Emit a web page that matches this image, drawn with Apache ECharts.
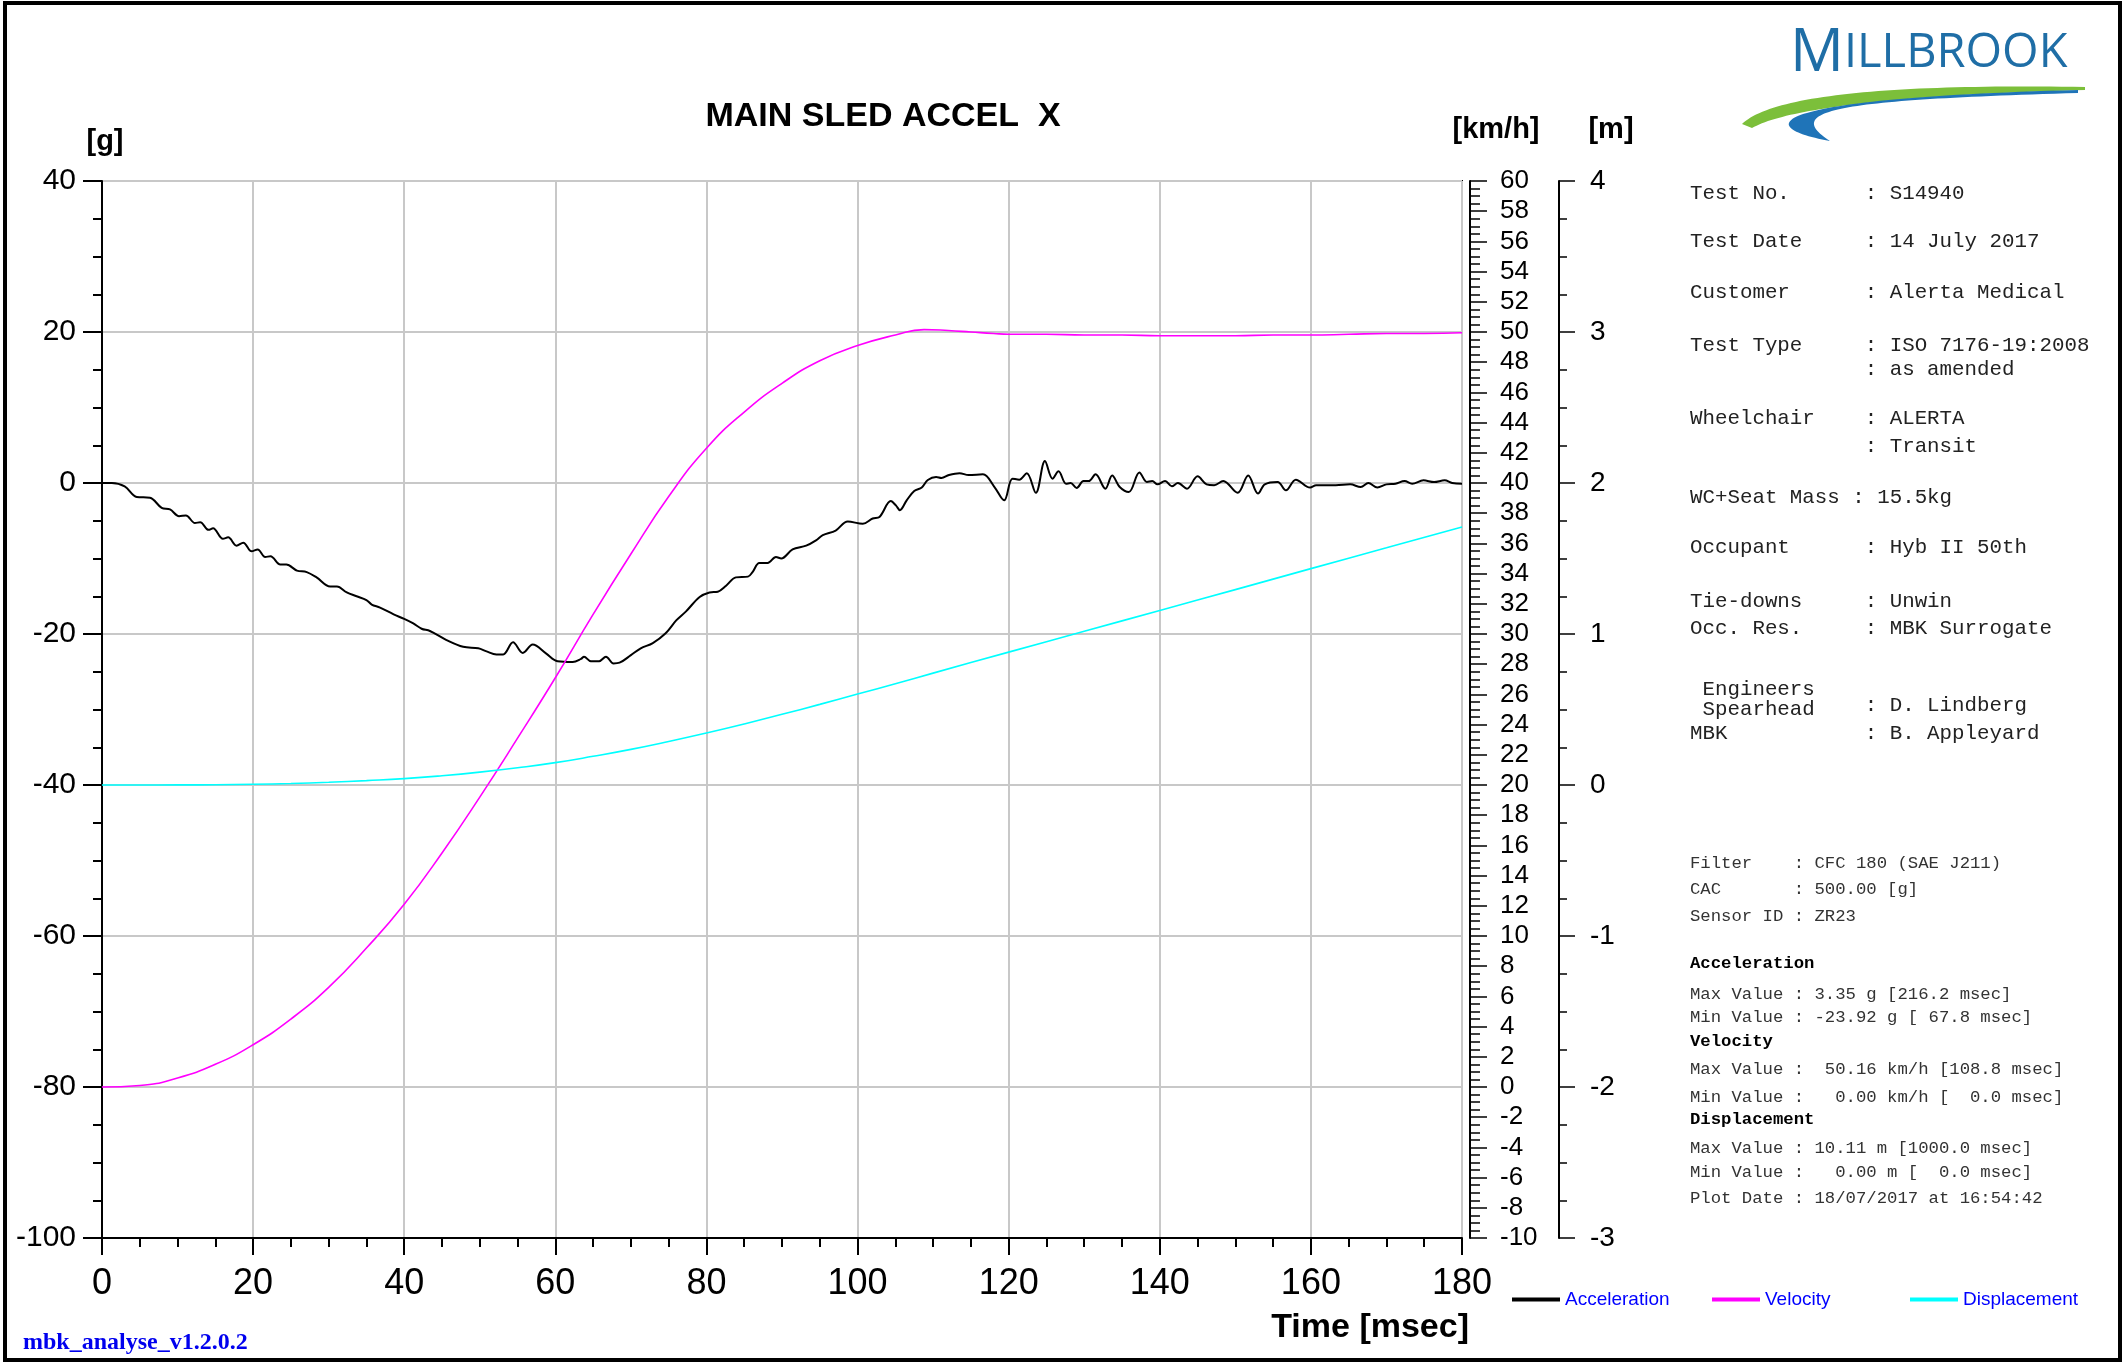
<!DOCTYPE html>
<html><head><meta charset="utf-8">
<script src="https://cdn.jsdelivr.net/npm/echarts@6/dist/echarts.min.js"></script>
<style>html,body{margin:0;padding:0;background:#fff}#c{width:2127px;height:1363px}</style>
</head><body><div id="c"></div>
<script>
// ---- data ----
const accTime = [0,1.3,3,4.6,6.35,7.9,9,10.2,11.1,12.3,13,14.1,14.7,16,16.7,17.8,18.7,19.8,20.6,21.6,22.3,23.6,24.4,25.8,27.1,28.4,30.2,31.1,32.4,33.7,35,35.7,36.8,38.6,40,41.2,42.3,43.4,45.6,47.8,49.8,50.9,52.2,53.1,54.4,55.7,57,58.8,60.3,62.3,63.4,63.8,64.7,65.8,66.7,67.7,68.5,70,71.3,72.9,74.6,76,77.3,79.1,80.4,81.5,82.6,83.9,85.5,86.1,87,88.1,89.2,89.9,91.4,93.2,94.5,95.4,97.1,98.7,100.7,102,102.9,104.4,105.1,105.6,106.5,107.5,108.5,109.3,110.4,111.1,112.1,113.5,114.7,116.6,118.1,119.4,120.5,121.4,122.4,123.6,124.8,125.8,126.6,127.6,128.2,129,129.9,130.6,131.5,132.8,133.7,134.7,135.9,137.3,138.3,139,139.7,140.7,141.6,142.4,143.6,145,146.2,147.2,148.4,150.3,151.7,153,153.9,155.6,156.7,158,159.9,160.7,163.3,165.2,166.6,167.6,168.8,170,171.2,172.4,173.4,174.9,176.3,177.7,178.7,180];
const accG = [0,0,-0.45,-1.85,-1.95,-3.3,-3.5,-4.4,-4.3,-5.3,-5.2,-6.2,-6.0,-7.4,-7.2,-8.3,-7.9,-9.05,-8.8,-9.8,-9.7,-10.8,-10.8,-11.6,-11.8,-12.5,-13.7,-13.7,-14.5,-15.0,-15.5,-16.1,-16.5,-17.4,-18.0,-18.6,-19.3,-19.6,-20.8,-21.7,-21.9,-22.3,-22.7,-22.7,-21.1,-22.5,-21.4,-22.6,-23.6,-23.7,-23.3,-23.0,-23.6,-23.6,-23.0,-23.9,-23.8,-22.8,-21.9,-21.2,-19.9,-18.2,-17.0,-15.1,-14.5,-14.4,-13.6,-12.5,-12.4,-11.8,-10.6,-10.6,-9.8,-10.0,-8.8,-8.3,-7.6,-6.9,-6.3,-5.1,-5.4,-4.7,-4.5,-2.4,-3.0,-3.6,-2.3,-1.06,-0.6,0.4,0.8,0.66,1.06,1.3,1.06,1.15,-0.5,-2.3,0.57,0.44,1.3,-1.3,2.9,0.57,1.55,-0.1,0,-0.66,0.26,0.26,1.15,-0.75,1.0,-0.53,-1.2,1.4,0.13,0.26,-0.18,0.26,-0.44,0,-0.75,0.88,-0.18,-0.3,0.26,-1.3,1.0,-1.4,-0.18,0.13,-0.97,0.44,-0.6,-0.3,-0.3,-0.18,-0.53,0,-0.6,-0.18,-0.1,0.26,-0.1,0.35,0.13,0.35,0,-0.1];
const velTime = [0,5,10,15,20,25,30,35,40,45,50,55,60,65,70,75,80,85,90,95,100,105,108.8,112,115,118,120,125,130,135,140,145,150,155,160,165,170,175,180];
const velKmh = [0,0.1,0.6,1.5,2.8,4.5,6.6,9.2,12.1,15.5,19.2,23.1,27.1,31.3,35.3,39.1,42.3,44.7,46.6,48.1,49.1,49.8,50.16,50.1,50.0,49.9,49.85,49.85,49.8,49.8,49.75,49.75,49.75,49.8,49.8,49.85,49.9,49.9,49.95];
const dispTime = [0,5,10,15,20,25,30,35,40,45,50,55,60,65,70,75,80,85,90,95,100,105,110,120,130,140,150,160,170,180];
const dispM = [0,0.0001,0.0006,0.002,0.005,0.010,0.018,0.029,0.042,0.061,0.085,0.114,0.148,0.19,0.236,0.288,0.344,0.404,0.468,0.534,0.602,0.671,0.741,0.88,1.018,1.156,1.294,1.433,1.571,1.708];
const seriesNames = ['Acceleration','Velocity','Displacement'];
const chartTitle = 'MAIN SLED ACCEL  X';
const unitG = '[g]', unitV = '[km/h]', unitM = '[m]', xName = 'Time [msec]';
const infoTop = ['Test No.      : S14940','Test Date     : 14 July 2017','Customer      : Alerta Medical','Test Type     : ISO 7176-19:2008','              : as amended','Wheelchair    : ALERTA','              : Transit','WC+Seat Mass : 15.5kg','Occupant      : Hyb II 50th','Tie-downs     : Unwin','Occ. Res.     : MBK Surrogate',' Engineers',' Spearhead','              : D. Lindberg','MBK           : B. Appleyard'];
const infoBottom = ['Filter    : CFC 180 (SAE J211)','CAC       : 500.00 [g]','Sensor ID : ZR23','Acceleration','Max Value : 3.35 g [216.2 msec]','Min Value : -23.92 g [ 67.8 msec]','Velocity','Max Value :  50.16 km/h [108.8 msec]','Min Value :   0.00 km/h [  0.0 msec]','Displacement','Max Value : 10.11 m [1000.0 msec]','Min Value :   0.00 m [  0.0 msec]','Plot Date : 18/07/2017 at 16:54:42'];
const footer = 'mbk_analyse_v1.2.0.2';

// ---- layout ----
const infoTopY = [193,241,292,345,369,418,446,497,547,601,628,689,709,705,733];
const infoBotY = [863,889,916,964,994,1017,1042,1069,1097,1120,1148,1172,1198];
const boldBot = {3:1,6:1,9:1};
const legendLeft = [1507,1707,1905];

const chart = echarts.init(document.getElementById('c'), null, {renderer:'canvas'});
const F = '"Liberation Sans", Arial, sans-serif';
const M = '"Liberation Mono", "Courier New", monospace';

function quad(p0,c,p1,n){const pts=[];for(let i=0;i<=n;i++){const t=i/n,u=1-t;pts.push([u*u*p0[0]+2*u*t*c[0]+t*t*p1[0],u*u*p0[1]+2*u*t*c[1]+t*t*p1[1]]);}return pts;}
function cub(p0,c1,c2,p1,n){const pts=[];for(let i=0;i<=n;i++){const t=i/n,u=1-t;pts.push([u*u*u*p0[0]+3*u*u*t*c1[0]+3*u*t*t*c2[0]+t*t*t*p1[0],u*u*u*p0[1]+3*u*u*t*c1[1]+3*u*t*t*c2[1]+t*t*t*p1[1]]);}return pts;}
const green = quad([1742,124],[1785,82],[2085,87],50).concat(quad([2085,90],[1805,98],[1752,128],50));
const blue = cub([1830,141],[1748,126],[1768,98],[2078,90],60).concat(cub([2078,93],[1835,100],[1782,110],[1830,141],60));

const T = (o)=>Object.assign({align:'left', verticalAlign:'middle', textAlign:'left', textVerticalAlign:'middle'}, o);
const graphics = [
  {type:'rect', shape:{x:5,y:3,width:2115,height:1357}, style:{fill:null, stroke:'#000', lineWidth:4}, silent:true},
  {type:'text', style:T({text:chartTitle, x:883, y:117, font:'bold 34px '+F, fill:'#000', align:'center', textAlign:'center'})},
  {type:'text', style:T({text:unitG, x:105, y:142, font:'bold 29px '+F, fill:'#000', align:'center', textAlign:'center'})},
  {type:'text', style:T({text:unitV, x:1496, y:130, font:'bold 29px '+F, fill:'#000', align:'center', textAlign:'center'})},
  {type:'text', style:T({text:unitM, x:1611, y:130, font:'bold 29px '+F, fill:'#000', align:'center', textAlign:'center'})},
  {type:'text', style:T({text:xName, x:1469, y:1328, font:'bold 34px '+F, fill:'#000', align:'right', textAlign:'right'})},
  {type:'text', style:T({text:footer, x:23, y:1343, font:'bold 24px "Liberation Serif", serif', fill:'#0000ee'})},
  {type:'polygon', shape:{points:green}, style:{fill:'#7cbf3a'}, silent:true},
  {type:'polygon', shape:{points:blue}, style:{fill:'#1f74b8'}, silent:true},
  {type:'text', style:{text:'{a|M}{b|ILLBROOK}', x:1790, y:84, fill:'#1f6ea6', align:'left', verticalAlign:'bottom', textAlign:'left', textVerticalAlign:'bottom',
    rich:{a:{fontSize:60, fontFamily:'"Open Sans", sans-serif', fill:'#1f6ea6', color:'#1f6ea6'}, b:{fontSize:47, fontFamily:'"Open Sans", sans-serif', fill:'#1f6ea6', color:'#1f6ea6'}}}}
];
infoTop.forEach((s,i)=>graphics.push({type:'text', style:T({text:s, x:1690, y:infoTopY[i], font:'20.8px '+M, fill:'#222'})}));
infoBottom.forEach((s,i)=>graphics.push({type:'text', style:T({text:s, x:1690, y:infoBotY[i], font:(boldBot[i]?'bold ':'')+'17.3px '+M, fill:boldBot[i]?'#000':'#333'})}));

const tickStyle = {color:'#000', width:2};
const legends = seriesNames.map((n,i)=>({data:[n], left:legendLeft[i], top:1285, itemWidth:48, itemHeight:4, icon:'rect',
  textStyle:{fontSize:19, color:'#0000ff', fontFamily:F, padding:0}}));
const option = {
  animation:false,
  backgroundColor:'#fff',
  grid: {left:102, top:181, width:1360, height:1057, show:true, borderColor:'#000', borderWidth:2, backgroundColor:'transparent'},
  legend: legends,
  xAxis: {type:'value', min:0, max:180, interval:20,
    axisLine:{show:true, onZero:false, lineStyle:{color:'#000', width:2}},
    axisTick:{show:true, length:17, lineStyle:tickStyle},
    minorTick:{show:true, splitNumber:4, length:9, lineStyle:tickStyle},
    axisLabel:{fontSize:36, color:'#000', fontFamily:F, margin:28},
    splitLine:{show:true, lineStyle:{color:'#c8c8c8', width:2}}},
  yAxis: [
    {type:'value', min:-100, max:40, interval:20, position:'left',
      axisLine:{show:true, onZero:false, lineStyle:{color:'#000', width:2}},
      axisTick:{show:true, length:19, lineStyle:tickStyle},
      minorTick:{show:true, splitNumber:4, length:9, lineStyle:tickStyle},
      axisLabel:{fontSize:30, color:'#000', fontFamily:F, margin:26},
      splitLine:{show:true, lineStyle:{color:'#c8c8c8', width:2}}},
    {type:'value', min:-10, max:60, interval:2, position:'right', offset:8,
      axisLine:{show:true, onZero:false, lineStyle:{color:'#000', width:2}},
      axisTick:{show:true, length:17, lineStyle:{color:'#000', width:1.5}},
      minorTick:{show:true, splitNumber:4, length:10, lineStyle:{color:'#000', width:1.5}},
      axisLabel:{fontSize:26, color:'#000', fontFamily:F, margin:30},
      splitLine:{show:false}},
    {type:'value', min:-3, max:4, interval:1, position:'right', offset:97,
      axisLine:{show:true, onZero:false, lineStyle:{color:'#000', width:2}},
      axisTick:{show:true, length:16, lineStyle:{color:'#000', width:1.5}},
      minorTick:{show:true, splitNumber:4, length:8, lineStyle:{color:'#000', width:1.5}},
      axisLabel:{fontSize:28, color:'#000', fontFamily:F, margin:31},
      splitLine:{show:false}}
  ],
  series: [
    {name:seriesNames[0], type:'line', yAxisIndex:0, showSymbol:false, smooth:0.35, color:'#000',
      lineStyle:{color:'#000', width:2}, data: accTime.map((t,i)=>[t, accG[i]])},
    {name:seriesNames[1], type:'line', yAxisIndex:1, showSymbol:false, smooth:0.5, color:'#ff00ff',
      lineStyle:{color:'#ff00ff', width:1.6}, data: velTime.map((t,i)=>[t, velKmh[i]])},
    {name:seriesNames[2], type:'line', yAxisIndex:2, showSymbol:false, smooth:0.5, color:'#00ffff',
      lineStyle:{color:'#00ffff', width:1.6}, data: dispTime.map((t,i)=>[t, dispM[i]])}
  ],
  graphic: graphics
};
chart.setOption(option);
</script></body></html>
